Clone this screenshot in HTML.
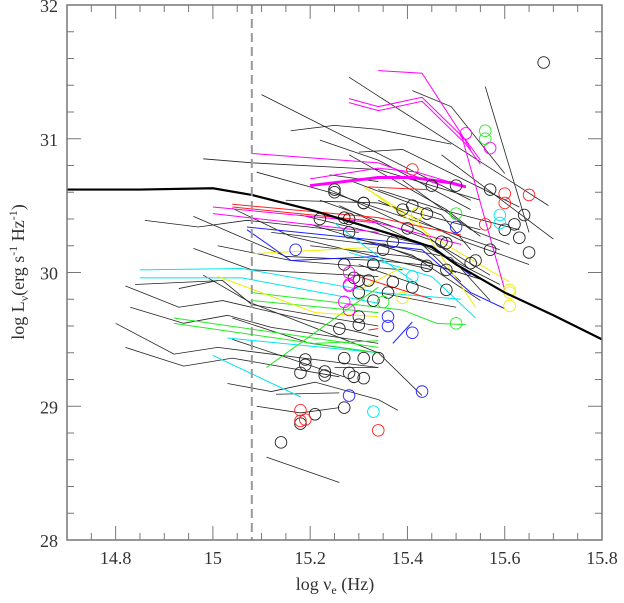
<!DOCTYPE html>
<html><head><meta charset="utf-8"><style>
body{margin:0;background:#fff}
svg{display:block;font-family:"Liberation Serif",serif}
</style></head><body>
<svg id="chart" width="624" height="603" viewBox="0 0 624 603" xmlns="http://www.w3.org/2000/svg">
<g id="marks"></g>
<g id="axes"></g>
<text x="335" y="590" text-anchor="middle" font-size="18" fill="#333">log ν<tspan font-size="12" dy="4">e</tspan><tspan dy="-4"> (Hz)</tspan></text>
<text transform="translate(24,272) rotate(-90)" text-anchor="middle" font-size="18" fill="#333">log L<tspan font-size="12" dy="4">ν</tspan><tspan dy="-4">(erg s</tspan><tspan font-size="12" dy="-7">-1</tspan><tspan dy="7"> Hz</tspan><tspan font-size="12" dy="-7">-1</tspan><tspan dy="7">)</tspan></text>
</svg>
<script>
const xTicks=[14.8,15,15.2,15.4,15.6,15.8];
const yTicks=[28,29,30,31,32];
const cutoff=15.08;
const modelX=[14.7,14.85,15.0,15.08,15.2,15.3,15.4,15.45,15.5,15.6,15.7,15.8];
const modelY=[30.62,30.62,30.63,30.58,30.47,30.36,30.25,30.19,30.06,29.85,29.68,29.5];
const blackLines=[
[[15.1,31.33],[15.53,30.54]],
[[15.41,31.36],[15.49,31.24],[15.6,30.74]],
[[15.56,31.39],[15.65,30.3]],
[[15.28,31.46],[15.69,30.5]],
[[15.47,30.88],[15.7,30.25]],
[[15.3,30.9],[15.39,30.92],[15.63,30.49]],
[[15.16,31.06],[15.25,31.1],[15.34,31.07],[15.49,30.96]],
[[15.22,30.99],[15.34,30.84],[15.53,30.47]],
[[14.98,30.85],[15.08,30.82],[15.34,30.77],[15.55,30.54]],
[[15.09,30.75],[15.25,30.59],[15.59,30.17]],
[[15.15,30.54],[15.34,30.52],[15.55,30.32]],
[[14.86,30.39],[14.97,30.34],[15.07,30.39],[15.3,30.3]],
[[14.96,30.42],[15.15,30.12],[15.34,30.09],[15.45,30.05]],
[[15.01,30.2],[15.16,30.09],[15.39,30.02]],
[[14.96,30.18],[15.08,30.02],[15.34,29.97]],
[[15.04,30.48],[15.16,30.27],[15.45,30.02]],
[[14.84,29.91],[15.02,29.94],[15.08,29.76],[15.34,29.6]],
[[14.93,29.88],[15.01,29.94]],
[[14.82,29.9],[14.93,29.74],[15.02,29.79],[15.34,29.52]],
[[14.83,29.74],[14.94,29.62],[15.03,29.68],[15.12,29.59],[15.34,29.47]],
[[14.98,29.98],[15.08,29.77],[15.34,29.4],[15.43,29.08]],
[[14.8,29.62],[14.92,29.39],[15.01,29.44],[15.34,29.29]],
[[14.82,29.44],[14.94,29.3],[15.04,29.36],[15.26,29.22]],
[[15.04,29.66],[15.2,29.47],[15.34,29.4]],
[[15.04,29.5],[15.27,29.22]],
[[15.03,29.17],[15.12,29.11],[15.21,29.18],[15.34,29.05],[15.38,28.97]],
[[15.13,29.09],[15.26,29.1]],
[[15.09,29.0],[15.18,28.95],[15.26,28.99]],
[[15.11,28.62],[15.26,28.43]],
[[15.25,29.29],[15.34,29.29]],
[[15.24,30.73],[15.34,30.68]],
[[15.28,30.88],[15.48,30.47],[15.55,30.27]],
[[15.28,30.69],[15.47,30.43],[15.53,30.17]],
[[15.24,30.62],[15.43,30.3],[15.53,30.02]],
[[15.22,30.54],[15.45,30.24],[15.57,29.98]],
[[15.26,30.5],[15.45,30.17],[15.59,29.91]],
[[15.18,30.43],[15.43,30.21],[15.51,29.93]],
[[15.2,30.36],[15.41,30.13],[15.55,29.79]],
[[15.28,30.26],[15.49,30.11],[15.57,29.79]],
[[15.34,30.54],[15.51,30.24],[15.65,30.06]],
[[15.39,30.69],[15.53,30.32],[15.61,30.21]],
[[15.34,30.62],[15.47,30.47],[15.63,30.32]],
[[15.31,29.87],[15.5,29.74]],
[[15.3,30.06],[15.45,29.87]],
[[15.12,30.3],[15.35,30.2],[15.5,30.0]],
[[15.2,30.2],[15.4,30.12],[15.55,29.95]]
];
const magentaLines=[
[[15.34,31.51],[15.43,31.49],[15.51,31.04],[15.53,30.92]],
[[15.28,31.3],[15.34,31.24],[15.43,31.31],[15.52,30.99],[15.55,30.84]],
[[15.28,31.27],[15.34,31.21],[15.43,31.28],[15.52,30.96],[15.55,30.81]],
[[15.08,30.89],[15.34,30.82],[15.47,30.65]],
[[15.2,30.7],[15.34,30.78],[15.42,30.75],[15.52,30.64]],
[[15.0,30.49],[15.34,30.37],[15.51,30.21]],
[[15.0,30.44],[15.34,30.3]],
[[15.51,31.04],[15.6,29.87]]
];
const magentaThick=[[15.2,30.65],[15.34,30.71],[15.41,30.71],[15.49,30.67],[15.52,30.64]];
const redLines=[
[[15.04,30.51],[15.34,30.41],[15.51,30.28]],
[[15.04,30.49],[15.34,30.38]],
[[15.32,30.64],[15.44,30.62]],
[[15.3,29.97],[15.45,29.8]],
[[15.32,29.57],[15.34,29.58]]
];
const blueLines=[
[[15.07,30.34],[15.34,30.24],[15.45,30.2],[15.53,29.98]],
[[15.07,30.32],[15.16,30.09],[15.34,30.12]],
[[15.31,30.22],[15.43,30.17],[15.53,29.85],[15.6,29.73]],
[[15.37,29.47],[15.41,29.63]]
];
const cyanLines=[
[[14.85,30.02],[15.06,30.03],[15.34,29.85],[15.51,29.8]],
[[14.85,29.96],[15.06,29.96],[15.34,29.77]],
[[15.03,29.51],[15.34,29.4]],
[[15.0,29.38],[15.18,29.07]],
[[15.25,30.37],[15.34,30.12],[15.41,29.94]],
[[15.28,30.15],[15.45,29.97],[15.54,29.66]]
];
const greenLines=[
[[15.08,29.85],[15.34,29.74],[15.39,29.72],[15.46,29.62],[15.52,29.61]],
[[15.08,29.79],[15.34,29.7]],
[[14.92,29.66],[15.34,29.44]],
[[14.92,29.62],[15.34,29.4]],
[[15.11,29.29],[15.34,29.89]],
[[15.21,29.47],[15.34,29.49]]
];
const yellowLines=[
[[15.01,29.97],[15.21,29.7],[15.34,29.67]],
[[15.08,30.14],[15.34,30.19]],
[[15.31,30.64],[15.42,30.39],[15.54,29.74]],
[[15.32,30.62],[15.45,30.27],[15.61,29.93]],
[[15.3,29.87],[15.39,30.04]]
];
const blackCircles=[[15.68,31.57],[15.25,30.62],[15.31,30.52],[15.27,30.41],[15.28,30.3],[15.22,30.4],[15.41,30.5],[15.39,30.47],[15.4,30.33],[15.44,30.44],[15.47,30.23],[15.48,30.22],[15.53,30.07],[15.6,30.32],[15.44,30.05],[15.37,30.23],[15.35,30.17],[15.33,30.06],[15.27,30.06],[15.29,29.96],[15.3,29.94],[15.37,29.93],[15.36,29.85],[15.33,29.79],[15.41,29.89],[15.48,29.87],[15.48,30.02],[15.54,30.09],[15.57,30.17],[15.64,30.43],[15.63,30.26],[15.65,30.15],[15.62,30.36],[15.57,30.62],[15.5,30.65],[15.45,30.65],[15.3,29.67],[15.3,29.61],[15.26,29.58],[15.31,29.36],[15.23,29.26],[15.23,29.23],[15.31,29.21],[15.18,29.25],[15.19,29.35],[15.19,29.31],[15.28,29.25],[15.29,29.22],[15.27,28.99],[15.21,28.94],[15.18,28.87],[15.14,28.73],[15.34,29.36],[15.25,30.6],[15.31,30.52],[15.28,30.4],[15.33,30.06],[15.32,29.94],[15.3,29.85],[15.27,29.36]];
const redCircles=[[15.18,28.97],[15.19,28.9],[15.18,28.89],[15.34,28.82],[15.65,30.58],[15.41,30.77],[15.6,30.59],[15.6,30.52],[15.56,30.36]];
const magentaCircles=[[15.28,30.0],[15.28,29.9],[15.28,29.91],[15.27,29.78],[15.28,29.72],[15.52,31.04],[15.57,30.93]];
const greenCircles=[[15.56,31.06],[15.56,31.0],[15.5,30.44],[15.35,29.78],[15.5,29.62]];
const blueCircles=[[15.17,30.17],[15.28,29.08],[15.5,30.34],[15.36,29.67],[15.36,29.6],[15.41,29.55],[15.43,29.11]];
const cyanCircles=[[15.33,28.96],[15.59,30.43],[15.59,30.37],[15.41,29.97]];
const yellowCircles=[[15.61,29.87],[15.61,29.85],[15.61,29.75],[15.39,29.81],[15.42,30.44]];

const L=67,R=602,T=5,B=540,X0=14.7,X1=15.8,Y0=28,Y1=32;
const sx=v=>L+(v-X0)/(X1-X0)*(R-L);
const sy=v=>B-(v-Y0)/(Y1-Y0)*(B-T);
const NS="http://www.w3.org/2000/svg";
const marks=document.getElementById('marks');
const axes=document.getElementById('axes');
function mk(tag,parent,attrs){const e=document.createElementNS(NS,tag);for(const k in attrs)e.setAttribute(k,attrs[k]);parent.appendChild(e);return e;}
function poly(pts,color,w,name){
  const e=mk('polyline',marks,{points:pts.map(p=>sx(p[0])+','+sy(p[1])).join(' '),fill:'none',stroke:color,'stroke-width':w});
  
  
}
const groups=[[blackLines,'#222',0.8,'sed-line-black'],[cyanLines,'#00e5ee',1,'sed-line-cyan'],[greenLines,'#22ee22',1,'sed-line-green'],[yellowLines,'#eeee00',1,'sed-line-yellow'],[blueLines,'#2020ff',1,'sed-line-blue'],[redLines,'#ff2020',1,'sed-line-red'],[magentaLines,'#ff00ff',1,'sed-line-magenta']];
groups.forEach(g=>g[0].forEach(l=>poly(l,g[1],g[2],g[3])));
poly(magentaThick,'#ff00ff',3,'sed-line-magenta-thick');
const circ=[[blackCircles,'#222','circle-black'],[redCircles,'#ff2020','circle-red'],[magentaCircles,'#ff00ff','circle-magenta'],[greenCircles,'#22ee22','circle-green'],[blueCircles,'#2020ff','circle-blue'],[cyanCircles,'#00e5ee','circle-cyan'],[yellowCircles,'#eeee00','circle-yellow']];
circ.forEach(g=>g[0].forEach(p=>{
  const c=mk('circle',marks,{cx:sx(p[0]),cy:sy(p[1]),r:5.8,fill:'none',stroke:g[1],'stroke-width':0.9});
  
  
}));
const model=mk('polyline',marks,{points:modelX.map((x,i)=>sx(x)+','+sy(modelY[i])).join(' '),fill:'none',stroke:'#000','stroke-width':2.2});


const dash=mk('line',marks,{x1:sx(cutoff),x2:sx(cutoff),y1:T,y2:B,stroke:'#999','stroke-width':2,'stroke-dasharray':'9,5'});


const fr=mk('rect',axes,{x:L,y:T,width:R-L,height:B-T,fill:'none',stroke:'#777','stroke-width':1.5});


for(let i=0;i<=22;i++){const v=X0+i*0.05;const major=Math.abs((v*5)-Math.round(v*5))<1e-6;const len=major?14:7;const x=sx(v);
  mk('line',axes,{x1:x,x2:x,y1:B,y2:B-len,stroke:'#777','stroke-width':1});
  mk('line',axes,{x1:x,x2:x,y1:T,y2:T+len,stroke:'#777','stroke-width':1});}
for(let i=0;i<=20;i++){const v=Y0+i*0.2;const major=i%5===0;const len=major?14:7;const y=sy(v);
  mk('line',axes,{x1:L,x2:L+len,y1:y,y2:y,stroke:'#777','stroke-width':1});
  mk('line',axes,{x1:R,x2:R-len,y1:y,y2:y,stroke:'#777','stroke-width':1});}
xTicks.forEach(v=>{const t=mk('text',axes,{x:sx(v),y:564,'text-anchor':'middle','font-size':18,fill:'#333'});t.textContent=String(v);
  
  });
yTicks.forEach(v=>{const t=mk('text',axes,{x:58,y:sy(v)+7,'text-anchor':'end','font-size':18,fill:'#333'});t.textContent=String(v);
  
  });
</script>
</body></html>
